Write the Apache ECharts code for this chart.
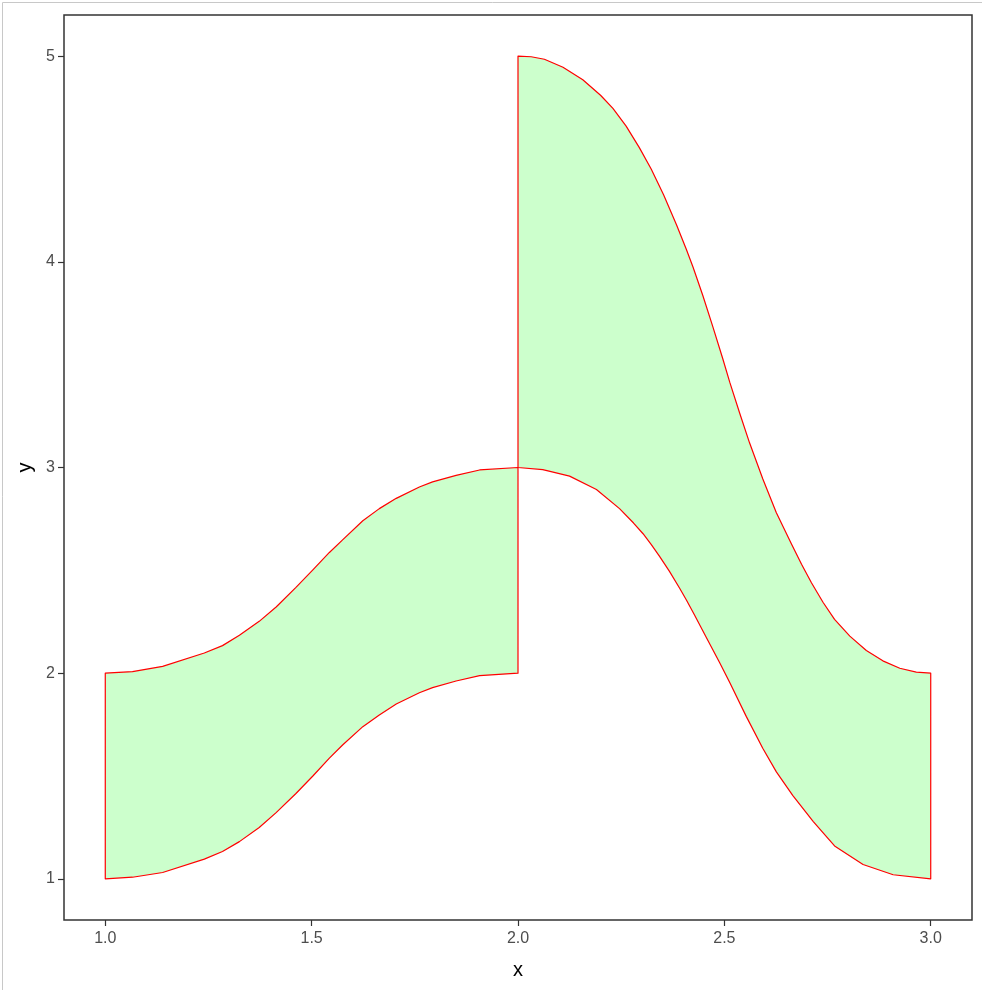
<!DOCTYPE html>
<html>
<head>
<meta charset="utf-8">
<script src="https://cdn.jsdelivr.net/npm/echarts@6/dist/echarts.min.js"></script>
<style>
  html, body { margin: 0; padding: 0; background: #fff; }
  #chart { width: 982px; height: 990px; }
</style>
</head>
<body>
<div id="chart"></div>
<script>
// left ribbon (x 1 -> 2)
const leftX = [1.0, 1.066, 1.139, 1.240, 1.284, 1.325, 1.373, 1.414, 1.462, 1.503, 1.543, 1.575, 1.624, 1.664, 1.705, 1.761, 1.793, 1.850, 1.907, 2.0]
const leftLowY = [1.0, 1.008, 1.031, 1.096, 1.133, 1.181, 1.250, 1.322, 1.415, 1.500, 1.587, 1.651, 1.740, 1.797, 1.850, 1.905, 1.930, 1.962, 1.988, 2.0]
const leftTopY = [2.0, 2.008, 2.033, 2.098, 2.134, 2.184, 2.252, 2.322, 2.417, 2.502, 2.587, 2.648, 2.741, 2.800, 2.850, 2.905, 2.930, 2.962, 2.988, 3.0]

// right ribbon (x 2 -> 3)
const rightTopX = [2.0, 2.032, 2.064, 2.109, 2.157, 2.200, 2.230, 2.262, 2.294, 2.323, 2.353, 2.384, 2.408, 2.424, 2.448, 2.472, 2.496, 2.513, 2.537, 2.561, 2.593, 2.626, 2.662, 2.687, 2.711, 2.739, 2.767, 2.804, 2.844, 2.884, 2.925, 2.965, 3.0]
const rightTopY = [5.0, 4.997, 4.985, 4.946, 4.885, 4.810, 4.746, 4.660, 4.555, 4.450, 4.325, 4.180, 4.060, 3.975, 3.835, 3.685, 3.530, 3.415, 3.265, 3.120, 2.945, 2.780, 2.630, 2.530, 2.440, 2.345, 2.262, 2.180, 2.110, 2.060, 2.024, 2.005, 2.0]
const rightLowX = [2.0, 2.060, 2.125, 2.190, 2.246, 2.280, 2.303, 2.323, 2.343, 2.367, 2.392, 2.408, 2.428, 2.456, 2.489, 2.513, 2.553, 2.593, 2.626, 2.666, 2.715, 2.767, 2.836, 2.909, 3.0]
const rightLowY = [3.0, 2.990, 2.958, 2.893, 2.800, 2.730, 2.678, 2.625, 2.568, 2.495, 2.412, 2.356, 2.282, 2.175, 2.050, 1.955, 1.790, 1.635, 1.520, 1.405, 1.280, 1.160, 1.070, 1.020, 1.0]

// tick labels
const xTicks = [1, 1.5, 2, 2.5, 3]
const yTicks = [1, 2, 3, 4, 5]

const shapes = [
  { ax: leftX, ay: leftLowY, bx: leftX, by: leftTopY },
  { ax: rightTopX, ay: rightTopY, bx: rightLowX, by: rightLowY }
]

const font = 'Liberation Sans, Arial, sans-serif'
const myChart = echarts.init(document.getElementById('chart'))

// polygon: first edge forward, second edge backwards
function renderItem(params, api) {
  const s = shapes[params.dataIndex]
  const pts = []
  s.ax.forEach((x, i) => pts.push(api.coord([x, s.ay[i]])))
  for (let i = s.bx.length - 1; i >= 0; i--) {
    pts.push(api.coord([s.bx[i], s.by[i]]))
  }
  return {
    type: 'polygon',
    shape: { points: pts },
    style: { fill: '#ccffcc', stroke: '#ff0000', lineWidth: 1.2, lineJoin: 'round' }
  }
}

myChart.setOption({
  animation: false,
  textStyle: { fontFamily: font },
  graphic: [
    {
      type: 'rect',
      left: 0,
      top: 0,
      shape: { x: 0.5, y: 0.5, width: 981, height: 989 },
      style: { fill: 'none', stroke: '#c8c8c8', lineWidth: 1 },
      silent: true
    }
  ],
  grid: {
    left: 64,
    right: 10,
    top: 15,
    bottom: 70,
    show: true,
    borderColor: '#333',
    borderWidth: 1.5,
    backgroundColor: '#fff'
  },
  xAxis: {
    type: 'value',
    min: 0.9,
    max: 3.1,
    name: 'x',
    nameLocation: 'middle',
    nameGap: 40,
    nameTextStyle: { color: '#000', fontSize: 20, fontFamily: font },
    axisLine: { show: false },
    splitLine: { show: false },
    axisTick: {
      show: true,
      length: 6,
      customValues: xTicks,
      lineStyle: { color: '#333', width: 1.2 }
    },
    axisLabel: {
      customValues: xTicks,
      margin: 11,
      color: '#4d4d4d',
      fontSize: 16,
      fontFamily: font,
      formatter: v => v.toFixed(1)
    }
  },
  yAxis: {
    type: 'value',
    min: 0.8,
    max: 5.2,
    name: 'y',
    nameLocation: 'middle',
    nameGap: 23,
    nameRotate: 90,
    nameTextStyle: { color: '#000', fontSize: 20, fontFamily: font },
    axisLine: { show: false },
    splitLine: { show: false },
    axisTick: {
      show: true,
      length: 6,
      customValues: yTicks,
      lineStyle: { color: '#333', width: 1.2 }
    },
    axisLabel: {
      customValues: yTicks,
      margin: 9,
      color: '#4d4d4d',
      fontSize: 16,
      fontFamily: font
    }
  },
  series: [
    {
      type: 'custom',
      renderItem,
      data: [[1, 1], [2, 1]]
    }
  ]
})
</script>
</body>
</html>
